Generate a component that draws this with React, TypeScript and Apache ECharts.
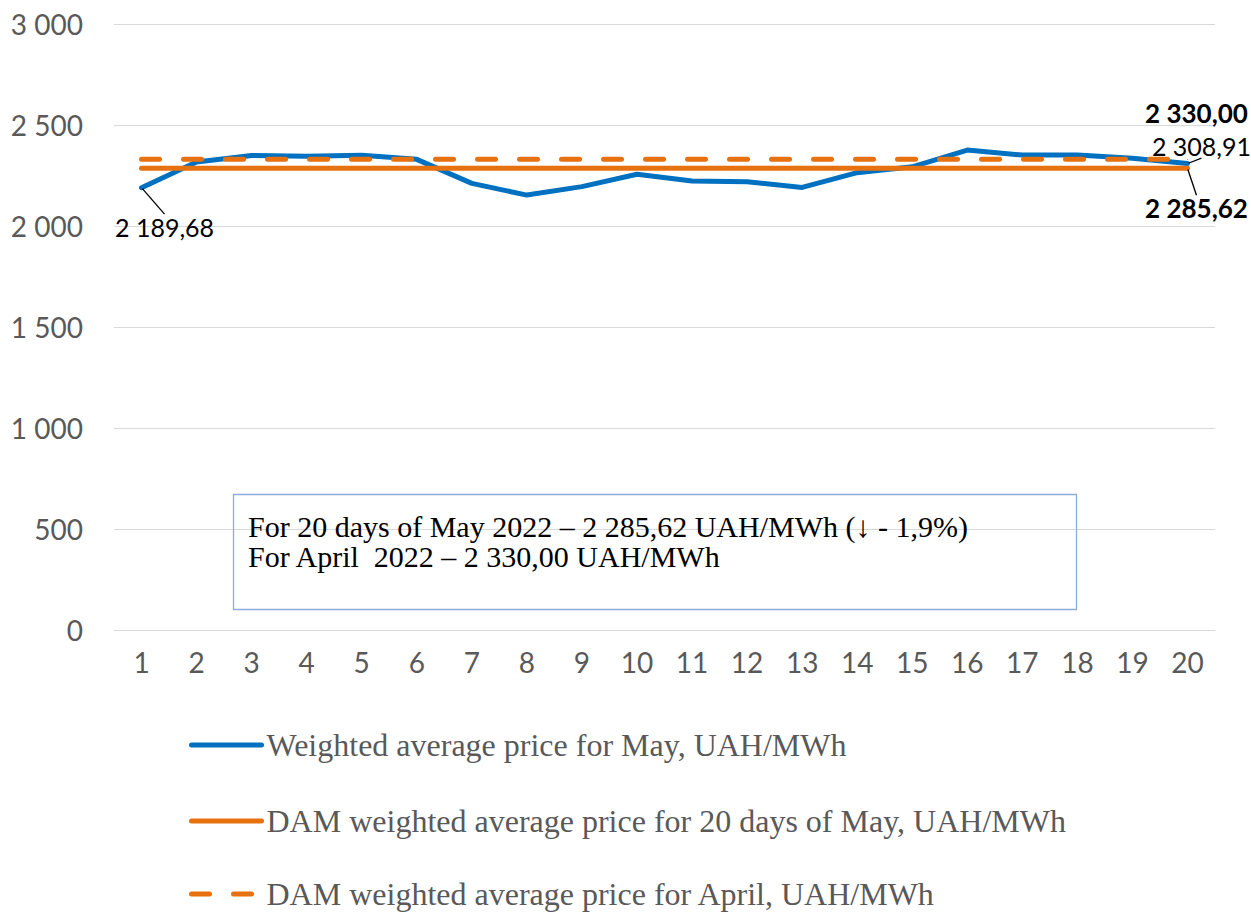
import React, { useEffect, useRef } from "react";
import * as echarts from "echarts";

const days = ["1","2","3","4","5","6","7","8","9","10","11","12","13","14","15","16","17","18","19","20"];
const mayPrice = [2189.68, 2317, 2349, 2345, 2350, 2330, 2211, 2153, 2195, 2256, 2223, 2219, 2191, 2264, 2293, 2376, 2351, 2351, 2335, 2308.91];
const may20Avg = [2285.62, 2285.62, 2285.62, 2285.62, 2285.62, 2285.62, 2285.62, 2285.62, 2285.62, 2285.62, 2285.62, 2285.62, 2285.62, 2285.62, 2285.62, 2285.62, 2285.62, 2285.62, 2285.62, 2285.62];
const aprilAvg = [2330, 2330, 2330, 2330, 2330, 2330, 2330, 2330, 2330, 2330, 2330, 2330, 2330, 2330, 2330, 2330, 2330, 2330, 2330, 2330];
const seriesNames = [
  "Weighted average price for May, UAH/MWh",
  "DAM weighted average price for 20 days of May, UAH/MWh",
  "DAM weighted average price for April, UAH/MWh",
];
const noteLines = [
  "For 20 days of May 2022 \u2013 2 285,62 UAH/MWh (\u2193 - 1,9%)",
  "For April  2022 \u2013 2 330,00 UAH/MWh",
];

const BLUE = "#0070C0";
const ORANGE = "#E8710F";
const GREY = "#595959";
const DASH = [18, 24];

function thousands(n: number): string {
  const s = Math.round(n).toString();
  return s.replace(/\B(?=(\d{3})+(?!\d))/g, " ");
}
function fmt2(n: number): string {
  const [i, d] = n.toFixed(2).split(".");
  return thousands(Number(i)) + "," + d;
}

export default function App() {
  const ref = useRef<HTMLDivElement>(null);
  useEffect(() => {
    if (!ref.current) return;
    const chart = echarts.init(ref.current, undefined, { renderer: "svg" });
    const last = days.length - 1;
    const labelBase = {
      position: "inside" as const,
      color: "#000",
      fontFamily: "Lato",
      fontSize: 25,
      formatter: (p: any) => fmt2(p.value),
    };
    const legendTops = [729, 805, 878];
    const legendColors = [BLUE, ORANGE, ORANGE];
    const legends = seriesNames.map((name, k) => ({
      orient: "horizontal",
      left: 189,
      top: legendTops[k],
      padding: 0,
      itemWidth: 70,
      itemHeight: 5,
      itemStyle: { opacity: 0 },
      lineStyle: {
        width: 5,
        cap: "round",
        color: legendColors[k],
        type: k === 2 ? DASH : "solid",
      },
      textStyle: { color: GREY, fontFamily: "Liberation Serif", fontSize: 32, lineHeight: 30 },
      data: [name],
    }));
    chart.setOption({
      animation: false,
      backgroundColor: "#fff",
      grid: { left: 114, right: 36, top: 24, bottom: 282 },
      xAxis: {
        type: "category",
        data: days,
        boundaryGap: true,
        axisLine: { show: true, lineStyle: { color: "#d9d9d9", width: 1 } },
        axisTick: { show: false },
        axisLabel: { color: GREY, fontFamily: "Lato", fontSize: 28, margin: 18 },
      },
      yAxis: {
        type: "value",
        min: 0,
        max: 3000,
        interval: 500,
        axisLine: { show: false },
        axisTick: { show: false },
        splitLine: { lineStyle: { color: "#d9d9d9", width: 1 } },
        axisLabel: {
          color: GREY,
          fontFamily: "Lato",
          fontSize: 28,
          margin: 31,
          formatter: (v: number) => thousands(v),
        },
      },
      legend: legends,
      series: [
        {
          name: seriesNames[0],
          type: "line",
          data: mayPrice.map((v, i) => {
            const lab = i === 0 || i === last;
            return { value: v, symbol: lab ? "circle" : "none", label: { show: lab } };
          }),
          symbolSize: 2,
          showSymbol: true,
          color: BLUE,
          lineStyle: { color: BLUE, width: 5, cap: "round", join: "round" },
          label: { ...labelBase, show: false },
          labelLine: { show: true, lineStyle: { color: "#000", width: 1.3 } },
          labelLayout: (p: any) => (p.dataIndex === 0 ? { dx: 23, dy: 39 } : { dx: 14, dy: -18 }),
          z: 2,
        },
        {
          name: seriesNames[1],
          type: "line",
          data: may20Avg.map((v, i) => ({
            value: v,
            symbol: i === last ? "circle" : "none",
            label: { show: i === last },
          })),
          symbolSize: 2,
          showSymbol: true,
          color: ORANGE,
          lineStyle: { color: ORANGE, width: 5, cap: "round" },
          label: { ...labelBase, show: false, fontWeight: "bold", fontSize: 26 },
          labelLine: { show: true, lineStyle: { color: "#000", width: 1.3 } },
          labelLayout: () => ({ dx: 9, dy: 40 }),
          z: 3,
        },
        {
          name: seriesNames[2],
          type: "line",
          data: aprilAvg.map((v, i) => ({
            value: v,
            symbol: i === last ? "circle" : "none",
            label: { show: i === last },
          })),
          symbolSize: 1,
          showSymbol: true,
          color: ORANGE,
          lineStyle: { color: ORANGE, width: 5, type: DASH, cap: "round" },
          label: { ...labelBase, show: false, fontWeight: "bold", fontSize: 26 },
          labelLayout: () => ({ dx: 9, dy: -46 }),
          z: 4,
        },
      ],
      graphic: [
        {
          type: "rect",
          left: 231,
          top: 492,
          shape: { width: 843, height: 115 },
          style: { fill: "none", stroke: "#8FAADC", lineWidth: 1.3 },
          z: 10,
        },
        {
          type: "text",
          left: 248,
          top: 511,
          style: { text: noteLines[0], fill: "#000", font: "30px 'Liberation Serif'" },
          z: 11,
        },
        {
          type: "text",
          left: 248,
          top: 541,
          style: { text: noteLines[1], fill: "#000", font: "30px 'Liberation Serif'" },
          z: 11,
        },
      ],
    });
    return () => chart.dispose();
  }, []);
  return (
    <div
      ref={ref}
      style={{ position: "fixed", left: 0, top: 0, width: "1251px", height: "912px", background: "#fff" }}
    />
  );
}
